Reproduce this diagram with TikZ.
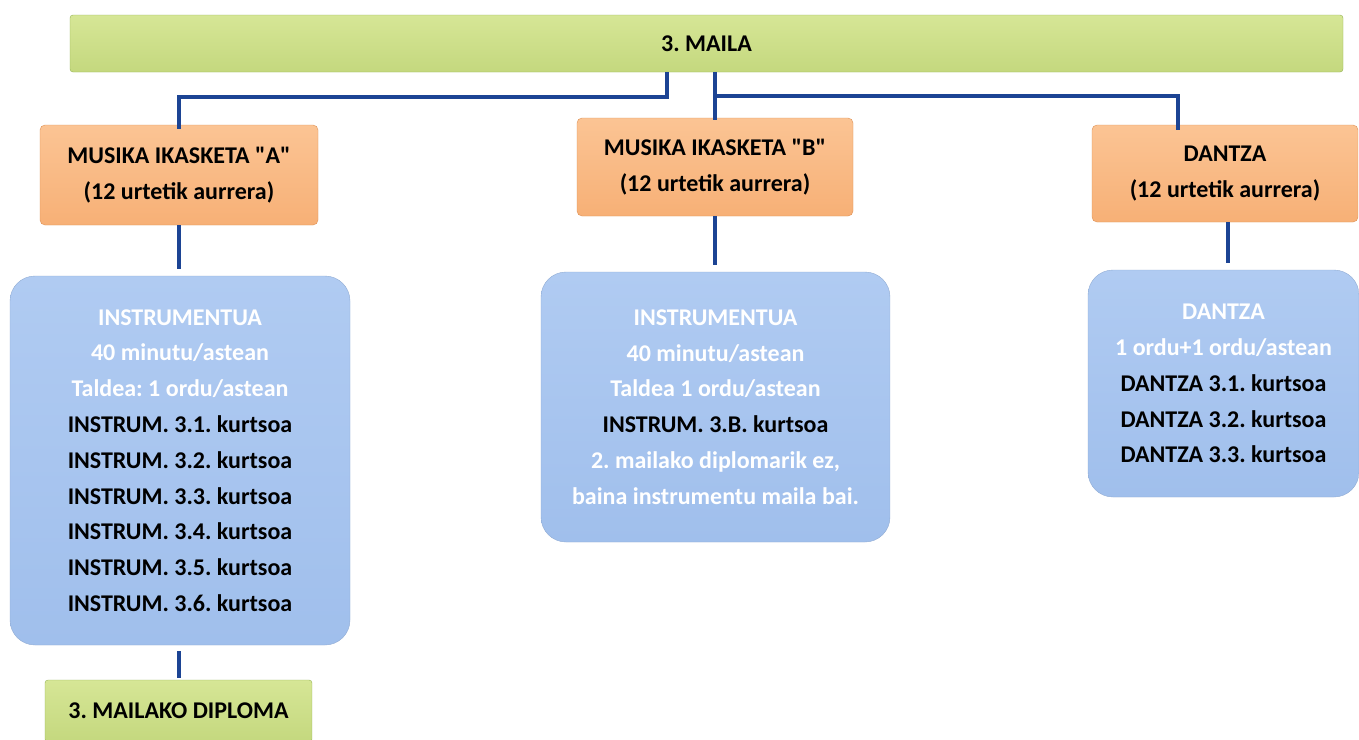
\documentclass[tikz,border=0pt]{standalone}
\usepackage{fontspec}
\setmainfont{Carlito}[Ligatures=TeXOff]
\usetikzlibrary{positioning}
\definecolor{barGreen}{RGB}{196,216,126}
\definecolor{barGreenTop}{RGB}{214,230,150}
\definecolor{barGreenEdge}{RGB}{150,180,85}
\definecolor{boxOrange}{RGB}{247,176,118}
\definecolor{boxOrangeTop}{RGB}{251,196,148}
\definecolor{boxOrangeEdge}{RGB}{222,145,85}
\definecolor{boxBlue}{RGB}{160,191,236}
\definecolor{boxBlueTop}{RGB}{176,203,242}
\definecolor{linkBlue}{RGB}{28,68,148}
\frenchspacing
\tikzset{
    every node/.style={font=\bfseries\fontsize{24}{35.8}\selectfont},
    level node/.style={draw=barGreenEdge,top color=barGreenTop,bottom color=barGreen,rounded corners=3pt,align=center,inner sep=0pt},
    branch node/.style={draw=boxOrangeEdge,top color=boxOrangeTop,bottom color=boxOrange,rounded corners=5pt,align=center,inner sep=0pt},
    info node/.style={draw=boxBlue!90!black,top color=boxBlueTop,bottom color=boxBlue,rounded corners=25pt,align=center,inner sep=0pt},
    link/.style={draw=linkBlue,line width=4pt}
}

\begin{document}
\begin{tikzpicture}[x=1pt,y=-1pt]
    \useasboundingbox[fill=white] (0,0) rectangle (1359,739);

        \node[level node,minimum width=1273pt,minimum height=57pt] (maila) at (706.5,43.5) {3. MAILA};
        \node[branch node,minimum width=278pt,minimum height=100pt] (musA) at (179,175) {MUSIKA IKASKETA "A"\\(12 urtetik aurrera)};
        \node[branch node,minimum width=276pt,minimum height=98pt] (musB) at (715,167) {MUSIKA IKASKETA "B"\\(12 urtetik aurrera)};
        \node[branch node,minimum width=266pt,minimum height=97pt] (dantza) at (1225,173.5) {DANTZA\\(12 urtetik aurrera)};
        \node[info node,minimum width=340pt,minimum height=369pt] (instA) at (180,460.5) {%
            \textcolor{white}{INSTRUMENTUA}\\
            \textcolor{white}{40 minutu/astean}\\
            \textcolor{white}{Taldea: 1 ordu/astean}\\
            INSTRUM. 3.1. kurtsoa\\
            INSTRUM. 3.2. kurtsoa\\
            INSTRUM. 3.3. kurtsoa\\
            INSTRUM. 3.4. kurtsoa\\
            INSTRUM. 3.5. kurtsoa\\
            INSTRUM. 3.6. kurtsoa};
        \node[info node,minimum width=349pt,minimum height=270pt] (instB) at (715.5,407) {%
            \textcolor{white}{INSTRUMENTUA}\\
            \textcolor{white}{40 minutu/astean}\\
            \textcolor{white}{Taldea 1 ordu/astean}\\
            INSTRUM. 3.B. kurtsoa\\
            \textcolor{white}{2. mailako diplomarik ez,}\\
            \textcolor{white}{baina instrumentu maila bai.}};
        \node[info node,minimum width=271pt,minimum height=227pt] (instD) at (1223.5,383.5) {%
            \textcolor{white}{DANTZA}\\
            \textcolor{white}{1 ordu+1 ordu/astean}\\
            DANTZA 3.1. kurtsoa\\
            DANTZA 3.2. kurtsoa\\
            DANTZA 3.3. kurtsoa};
        \node[level node,minimum width=267pt,minimum height=62pt] (diploma) at (178.5,711) {3. MAILAKO DIPLOMA};

        % connectors
        \coordinate (fork) at (715,96);
        \draw[link] ([xshift=-40pt]maila.south) -- ++(0,25) -| ([yshift=-4pt]musA.north);
        \draw[link] (maila.south -| musB.north) -- ([yshift=-2pt]musB.north);
        \draw[link] (fork) -| ([xshift=-47pt,yshift=-5pt]dantza.north);
        \draw[link,shorten >=7pt] (musA.south) -- (musA.south |- instA.north);
        \draw[link,shorten >=7pt] (musB.south) -- (musB.south |- instB.north);
        \draw[link,shorten >=7pt] ([xshift=3pt]dantza.south) -- ([xshift=3pt]dantza.south |- instD.north);
        \draw[link,shorten <=6pt,shorten >=2pt] (instA.south -| diploma.north) -- (diploma.north);
      \end{tikzpicture}
\end{document}
